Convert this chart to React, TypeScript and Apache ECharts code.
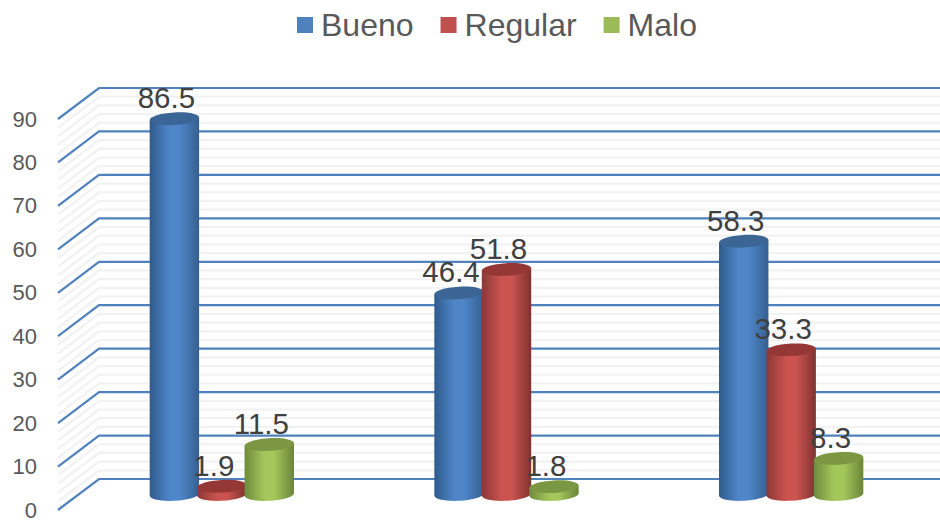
import React, { useEffect, useRef } from "react";
import * as echarts from "echarts";

const categories = ["A", "B", "C"];
const bueno = [86.5, 46.4, 58.3];
const regular = [1.9, 51.8, 33.3];
const malo = [11.5, 1.8, 8.3];
const majorTicks = [0, 10, 20, 30, 40, 50, 60, 70, 80, 90];
const minorTicks = [
  2, 4, 6, 8, 12, 14, 16, 18, 22, 24, 26, 28, 32, 34, 36, 38, 42, 44, 46, 48,
  52, 54, 56, 58, 62, 64, 66, 68, 72, 74, 76, 78, 82, 84, 86, 88,
];

const FONT = '"Liberation Sans", Arial, sans-serif';
const DEPTH_X = 41;
const DEPTH_Y = 31;

function grad(edgeL: string, mid: string, edgeR: string) {
  return new echarts.graphic.LinearGradient(0, 0, 1, 0, [
    { offset: 0, color: edgeL },
    { offset: 0.4, color: mid },
    { offset: 0.6, color: mid },
    { offset: 1, color: edgeR },
  ]);
}

function wallSeries(ticks: number[], color: string, width: number, z: number) {
  return {
    type: "custom",
    silent: true,
    z,
    legendHoverLink: false,
    data: ticks.map((t) => [0, t]),
    encode: { x: 0, y: 1 },
    renderItem: (params: any, api: any) => {
      const y = api.coord([0, api.value(1)])[1];
      const cs = params.coordSys;
      return {
        type: "polyline",
        shape: {
          points: [
            [cs.x - 1, y],
            [cs.x - 1 + DEPTH_X, y - DEPTH_Y],
            [cs.x + cs.width + DEPTH_X, y - DEPTH_Y],
          ],
        },
        style: { stroke: color, lineWidth: width, fill: "none" },
      };
    },
  };
}

function cylinderSeries(
  name: string,
  values: number[],
  slot: number,
  color: string,
  body: any,
  top: string,
) {
  return {
    type: "custom",
    name,
    z: 3,
    itemStyle: { color },
    data: values.map((v, i) => [i, v]),
    encode: { x: 0, y: 1 },
    renderItem: (_: any, api: any) => {
      const band = api.size([1, 0])[0];
      const rx = band * 0.0868;
      const ry = 6.3;
      const tilt = 0.055;
      const d = rx * Math.sin(tilt);
      const value = api.value(1);
      const [px, py] = api.coord([api.value(0), value]);
      const base = api.coord([api.value(0), 0])[1] - DEPTH_Y / 2;
      const cx = px + DEPTH_X / 2 + (slot * band) / 6;
      const ty = py - DEPTH_Y / 2;
      return {
        type: "group",
        children: [
          {
            type: "ellipse",
            x: cx,
            y: base,
            rotation: tilt,
            shape: { cx: 0, cy: 0, rx, ry },
            style: { fill: body },
          },
          {
            type: "polygon",
            shape: {
              points: [
                [cx - rx, ty + d],
                [cx + rx, ty - d],
                [cx + rx, base - d],
                [cx - rx, base + d],
              ],
            },
            style: { fill: body },
          },
          {
            type: "ellipse",
            x: cx,
            y: ty,
            rotation: tilt,
            shape: { cx: 0, cy: 0, rx, ry },
            style: { fill: top },
          },
          {
            type: "text",
            z2: 100,
            x: cx - 8,
            y: ty - 21,
            style: {
              text: String(value),
              fontSize: 29.5,
              fontFamily: FONT,
              fill: "#404040",
              align: "center",
              verticalAlign: "middle",
            },
          },
        ],
      };
    },
  };
}

export default function App() {
  const ref = useRef<HTMLDivElement>(null);
  useEffect(() => {
    const chart = echarts.init(ref.current!, undefined, { renderer: "svg" });
    chart.setOption({
      animation: false,
      backgroundColor: "#ffffff",
      legend: {
        left: 297,
        top: 9,
        padding: 0,
        itemWidth: 16,
        itemHeight: 16,
        itemGap: 27,
        icon: "rect",
        data: ["Bueno", "Regular", "Malo"],
        textStyle: {
          fontSize: 32,
          fontFamily: FONT,
          color: "#595959",
          padding: [0, 0, 0, 3],
        },
      },
      grid: {
        left: 59,
        right: 27,
        top: 119,
        bottom: 11,
        outerBoundsMode: "none",
      },
      xAxis: {
        type: "category",
        data: categories,
        show: false,
      },
      yAxis: {
        type: "value",
        min: 0,
        max: 90,
        interval: 10,
        axisLine: { show: false },
        axisTick: { show: false },
        splitLine: { show: false },
        axisLabel: {
          margin: 22,
          fontSize: 22,
          fontFamily: FONT,
          color: "#595959",
          padding: [2, 0, 0, 0],
        },
      },
      series: [
        wallSeries(minorTicks, "#f2f2f2", 2.2, 1),
        wallSeries(majorTicks, "#4f81bd", 2.2, 2),
        cylinderSeries("Bueno", bueno, -1, "#4f81bd", grad("#2f5a8c", "#4f86c8", "#365f91"), "#3a6595"),
        cylinderSeries("Regular", regular, 0, "#c0504d", grad("#8a3836", "#cb5450", "#7f3230"), "#953735"),
        cylinderSeries("Malo", malo, 1, "#9bbb59", grad("#6e8a3c", "#a4c75c", "#6a8439"), "#7b9744"),
      ],
    });
    return () => chart.dispose();
  }, []);
  return (
    <div
      ref={ref}
      style={{ position: "absolute", left: 0, top: 0, width: 940, height: 521 }}
    />
  );
}
